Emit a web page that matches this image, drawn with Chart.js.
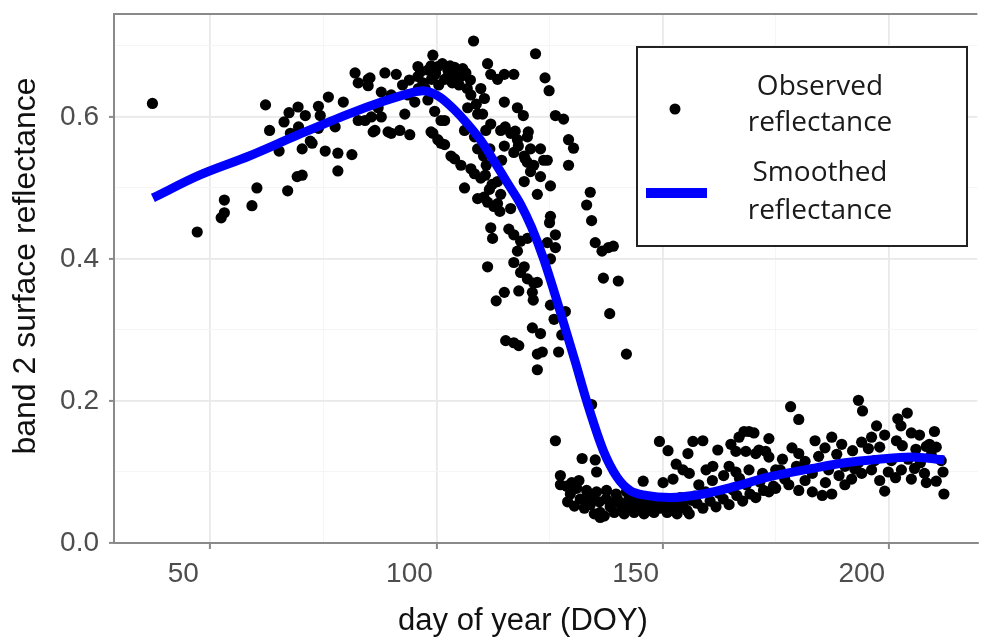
<!DOCTYPE html>
<html>
<head>
<meta charset="utf-8">
<script src="https://cdn.jsdelivr.net/npm/chart.js@4.4.1/dist/chart.umd.min.js"></script>
<style>
  html, body { margin: 0; padding: 0; background: #fff; overflow: hidden; }
  #wrap { width: 983px; height: 639px; }
</style>
</head>
<body>
<div id="wrap"><canvas id="reflChart" width="983" height="639"></canvas></div>
<script>
// observed band 2 reflectance (day of year / value pairs)
const obsDoy = [
  37.2, 47.1, 52.4, 53.1, 53.1, 59.2, 60.3, 62.2, 63.1, 65.2,
  66.3, 67.1, 67.4, 67.7, 69.2, 69.4, 69.5, 70.3, 70.3, 71.0,
  72.1, 72.5, 73.9, 73.9, 74.3, 75.4, 76.1, 77.6, 78.2, 78.2,
  79.4, 81.3, 82.0, 82.7, 82.7, 84.2, 84.9, 84.9, 85.3, 85.6,
  86.0, 86.4, 87.1, 87.8, 87.8, 88.6, 89.3, 90.0, 90.0, 91.1,
  91.9, 93.0, 93.7, 94.1, 95.2, 95.9, 95.9, 96.5, 97.0, 98.1,
  98.1, 98.8, 98.8, 98.9, 99.2, 99.2, 99.6, 99.6, 100.3, 100.3,
  100.5, 101.0, 101.0, 101.8, 101.8, 101.8, 102.5, 102.5, 103.2, 103.5,
  103.5, 104.0, 104.0, 105.0, 105.4, 105.4, 105.8, 106.2, 106.2, 106.5,
  106.9, 107.5, 107.6, 107.6, 108.2, 108.4, 108.4, 109.1, 109.1, 109.1,
  109.8, 109.8, 110.6, 110.2, 110.9, 110.4, 110.8, 111.0, 110.5, 111.3,
  111.3, 111.3, 112.0, 112.0, 112.3, 111.8, 111.7, 112.0, 112.4, 112.7,
  113.2, 113.5, 113.5, 113.5, 114.2, 114.0, 114.4, 114.2, 115.0, 115.0,
  115.0, 115.2, 115.0, 115.3, 116.0, 116.4, 116.4, 117.1, 117.1, 117.1,
  117.1, 117.1, 117.4, 117.9, 117.9, 118.1, 117.9, 118.2, 118.2, 118.6,
  118.6, 119.4, 119.2, 119.4, 119.6, 119.4, 120.1, 120.1, 120.3, 120.1,
  120.1, 120.8, 120.8, 121.2, 121.4, 121.2, 121.5, 121.5, 121.9, 122.3,
  122.3, 122.3, 122.3, 123.0, 123.0, 123.0, 123.4, 123.7, 124.0, 124.5,
  124.5, 124.9, 125.2, 125.2, 125.0, 125.2, 125.2, 126.0, 126.3, 126.3,
  126.3, 126.3, 127.0, 127.4, 127.4, 127.7, 128.1, 128.5, 128.8, 129.2,
  129.2, 129.6, 130.3, 131.0, 131.8, 132.2, 132.7, 133.2, 133.2, 134.0,
  134.0, 134.3, 134.3, 134.9, 135.1, 135.1, 135.4, 135.4, 136.2, 136.2,
  136.6, 136.9, 137.1, 137.6, 138.0, 138.3, 138.4, 139.1, 139.3, 139.7,
  140.2, 140.6, 141.5, 142.0, 142.0, 142.8, 143.7, 144.2, 145.0, 145.7,
  145.9, 146.4, 147.2, 148.1, 148.6, 149.3, 149.4, 150.1, 151.0, 151.2,
  151.6, 151.8, 152.3, 153.0, 153.2, 153.7, 153.9, 154.5, 155.4, 155.6,
  155.9, 155.9, 156.7, 157.6, 158.9, 158.9, 159.6, 160.5, 161.1, 161.8,
  162.2, 163.4, 164.7, 164.7, 165.1, 166.2, 166.2, 166.4, 166.9, 167.7,
  168.0, 168.4, 169.1, 169.1, 169.3, 170.2, 170.6, 170.6, 171.3, 172.1,
  172.3, 172.8, 173.5, 173.5, 173.5, 174.5, 175.0, 175.0, 176.0, 177.9,
  178.3, 178.6, 179.6, 180.1, 180.1, 180.1, 183.1, 183.1, 183.7, 185.3,
  185.9, 186.7, 187.4, 187.4, 189.6, 190.3, 190.3, 191.8, 193.3, 193.3,
  194.0, 194.0, 194.2, 196.2, 196.2, 196.9, 197.3, 199.1, 199.1, 199.9,
  200.6, 201.7, 202.0, 202.7, 202.8, 204.1, 204.3, 205.0, 205.7, 206.8,
  207.9, 208.3, 208.3, 209.0, 209.4, 210.1, 210.5, 211.6, 212.0, 212.2,
  // denser parts of the cloud
  92.5, 94.0, 96.0, 97.5, 99.8, 101.3, 103.0, 104.8, 106.8, 108.8,
  129.0, 129.9, 130.5, 131.5, 133.0, 134.5, 136.0, 137.5, 138.8, 140.0,
  141.2, 142.4, 143.3, 144.8, 146.0, 147.5, 148.8, 150.3, 152.5, 154.5,
  156.5, 157.0, 158.0, 159.5, 161.0, 162.5, 163.5, 165.5, 167.0, 168.5,
  171.5, 176.5, 177.0, 181.5, 181.5, 184.5, 186.0, 188.5, 189.0, 192.0,
  192.5, 195.5, 198.0, 198.0, 201.5, 203.0, 205.0, 206.0, 207.0, 210.5
];
const obsRefl = [
  0.619, 0.438, 0.458, 0.465, 0.483, 0.475, 0.500, 0.617, 0.581, 0.552,
  0.593, 0.496, 0.606, 0.577, 0.516, 0.614, 0.586, 0.555, 0.518, 0.602,
  0.566, 0.563, 0.615, 0.584, 0.602, 0.552, 0.628, 0.586, 0.549, 0.524,
  0.621, 0.547, 0.662, 0.648, 0.595, 0.595, 0.653, 0.644, 0.655, 0.600,
  0.579, 0.581, 0.613, 0.600, 0.635, 0.662, 0.579, 0.577, 0.631, 0.660,
  0.581, 0.604, 0.631, 0.575, 0.621, 0.671, 0.657, 0.664, 0.648, 0.666,
  0.624, 0.672, 0.579, 0.653, 0.687, 0.577, 0.659, 0.608, 0.671, 0.568,
  0.645, 0.563, 0.595, 0.653, 0.595, 0.561, 0.666, 0.657, 0.545, 0.648,
  0.660, 0.670, 0.541, 0.645, 0.657, 0.532, 0.668, 0.500, 0.581, 0.662,
  0.613, 0.652, 0.527, 0.631, 0.707, 0.572, 0.520, 0.604, 0.555, 0.485,
  0.640, 0.514, 0.626, 0.604, 0.581, 0.545, 0.518, 0.532, 0.487, 0.675,
  0.480, 0.389, 0.660, 0.590, 0.505, 0.555, 0.498, 0.444, 0.429, 0.474,
  0.341, 0.653, 0.509, 0.478, 0.581, 0.467, 0.539, 0.491, 0.660, 0.559,
  0.621, 0.586, 0.353, 0.285, 0.442, 0.577, 0.471, 0.660, 0.550, 0.434,
  0.395, 0.282, 0.580, 0.568, 0.613, 0.559, 0.411, 0.355, 0.278, 0.425,
  0.381, 0.545, 0.602, 0.509, 0.541, 0.389, 0.572, 0.536, 0.579, 0.429,
  0.372, 0.555, 0.523, 0.353, 0.342, 0.303, 0.532, 0.366, 0.689, 0.491,
  0.367, 0.266, 0.244, 0.555, 0.516, 0.295, 0.269, 0.539, 0.655, 0.539,
  0.423, 0.637, 0.503, 0.460, 0.451, 0.400, 0.335, 0.315, 0.602, 0.434,
  0.416, 0.144, 0.269, 0.095, 0.082, 0.293, 0.597, 0.326, 0.080, 0.568,
  0.532, 0.069, 0.556, 0.077, 0.062, 0.119, 0.049, 0.476, 0.074, 0.494,
  0.054, 0.454, 0.195, 0.041, 0.423, 0.117, 0.100, 0.072, 0.043, 0.036,
  0.411, 0.373, 0.038, 0.074, 0.416, 0.323, 0.051, 0.418, 0.043, 0.069,
  0.369, 0.056, 0.041, 0.266, 0.072, 0.051, 0.043, 0.067, 0.049, 0.087,
  0.041, 0.064, 0.046, 0.043, 0.062, 0.143, 0.049, 0.085, 0.043, 0.130,
  0.046, 0.062, 0.090, 0.111, 0.041, 0.049, 0.064, 0.103, 0.046, 0.126,
  0.041, 0.098, 0.143, 0.056, 0.144, 0.049, 0.103, 0.059, 0.108, 0.051,
  0.131, 0.062, 0.108, 0.054, 0.139, 0.129, 0.100, 0.067, 0.149, 0.059,
  0.157, 0.129, 0.103, 0.157, 0.069, 0.155, 0.126, 0.064, 0.131, 0.098,
  0.074, 0.129, 0.147, 0.072, 0.121, 0.080, 0.103, 0.077, 0.103, 0.082,
  0.192, 0.134, 0.108, 0.174, 0.126, 0.074, 0.098, 0.072, 0.144, 0.067,
  0.134, 0.103, 0.149, 0.069, 0.139, 0.108, 0.082, 0.090, 0.201, 0.113,
  0.142, 0.098, 0.186, 0.149, 0.103, 0.116, 0.165, 0.152, 0.073, 0.100,
  0.116, 0.144, 0.175, 0.165, 0.103, 0.183, 0.118, 0.155, 0.105, 0.152,
  0.098, 0.136, 0.085, 0.139, 0.124, 0.157, 0.087, 0.116, 0.100, 0.069,
  // denser parts of the cloud
  0.645, 0.652, 0.640, 0.640, 0.662, 0.675, 0.672, 0.655, 0.640, 0.618,
  0.058, 0.085, 0.052, 0.088, 0.060, 0.064, 0.058, 0.062, 0.057, 0.062,
  0.050, 0.060, 0.055, 0.058, 0.052, 0.056, 0.053, 0.055, 0.054, 0.055,
  0.060, 0.066, 0.082, 0.072, 0.088, 0.070, 0.095, 0.075, 0.091, 0.082,
  0.086, 0.118, 0.090, 0.115, 0.088, 0.122, 0.085, 0.125, 0.095, 0.130,
  0.104, 0.133, 0.135, 0.088, 0.092, 0.137, 0.090, 0.132, 0.113, 0.135
];

// smoothed curve
const smoothDoy = [37.3, 47.6, 58.6, 69.5, 80.5, 87.8, 94.4, 97.0, 99.0, 101.0,
  104.0, 106.9, 109.8, 112.7, 115.7, 118.6, 121.0, 123.7, 127.4, 130.7,
  133.2, 136.9, 139.9, 142.8, 146.4, 151.6, 158.9, 166.2, 173.5, 183.1,
  190.3, 197.7, 205.0, 212.3];
const smoothRefl = [0.486, 0.518, 0.545, 0.575, 0.604, 0.621, 0.634, 0.637, 0.634, 0.627,
  0.610, 0.590, 0.567, 0.538, 0.507, 0.477, 0.445, 0.400, 0.325, 0.255,
  0.200, 0.130, 0.093, 0.074, 0.067, 0.064, 0.069, 0.080, 0.093, 0.105,
  0.113, 0.118, 0.121, 0.117];

const xTicks = [50, 75, 100, 125, 150, 175, 200];
const xLabels = [50, 100, 150, 200];
const yTicks = [0, 0.1, 0.2, 0.3, 0.4, 0.5, 0.6, 0.7];
const yLabels = [0, 0.2, 0.4, 0.6];

const legendItems = [['Observed', 'reflectance'], ['Smoothed', 'reflectance']];

const gridMajor = '#e9e9e9';
const gridMinor = '#f5f5f5';
const frameGray = '#8a8a8a';

function isMajor(list, ctx) {
  return ctx.tick && list.includes(ctx.tick.value);
}

// drop the label padding chart.js adds so the panel fills the figure
function noEdgePadding(s) {
  s.paddingTop = 0;
  s.paddingBottom = 0;
  s.paddingLeft = 0;
  s.paddingRight = 0;
}

// top frame line, axis titles and the boxed legend
const decorations = {
  id: 'decorations',
  afterDraw(chart) {
    const ctx = chart.ctx;
    const area = chart.chartArea;
    ctx.save();

    ctx.strokeStyle = frameGray;
    ctx.lineWidth = 2;
    ctx.beginPath();
    ctx.moveTo(area.left - 1, area.top);
    ctx.lineTo(area.right, area.top);
    ctx.stroke();

    ctx.fillStyle = '#111';
    ctx.textAlign = 'center';
    ctx.textBaseline = 'middle';
    ctx.font = '31px "Liberation Sans", Arial, sans-serif';
    ctx.fillText('day of year (DOY)', 523, 621);

    ctx.save();
    ctx.translate(26, 266);
    ctx.rotate(-Math.PI / 2);
    ctx.font = '32px "Liberation Sans", Arial, sans-serif';
    ctx.fillText('band 2 surface reflectance', 0, 0);
    ctx.restore();

    // legend box
    ctx.fillStyle = '#fff';
    ctx.fillRect(637, 47, 330, 199);
    ctx.strokeStyle = '#222';
    ctx.lineWidth = 2;
    ctx.strokeRect(637, 47, 330, 199);

    ctx.fillStyle = '#000';
    ctx.beginPath();
    ctx.arc(675, 109, 5.5, 0, Math.PI * 2);
    ctx.fill();

    ctx.fillStyle = '#0000ff';
    ctx.fillRect(646, 188, 61, 10);

    ctx.fillStyle = '#1a1a1a';
    ctx.font = '28px "Open Sans", sans-serif';
    ctx.textBaseline = 'alphabetic';
    ctx.fillText(legendItems[0][0], 820, 95);
    ctx.fillText(legendItems[0][1], 820, 131);
    ctx.fillText(legendItems[1][0], 820, 181);
    ctx.fillText(legendItems[1][1], 820, 219);

    ctx.restore();
  }
};

const chart = new Chart(document.getElementById('reflChart'), {
  type: 'scatter',
  data: {
    datasets: [
      {
        label: 'Smoothed reflectance',
        data: smoothDoy.map((d, i) => ({ x: d, y: smoothRefl[i] })),
        showLine: true,
        borderColor: '#0000ff',
        borderWidth: 9,
        pointRadius: 0,
        cubicInterpolationMode: 'monotone',
        order: 0
      },
      {
        label: 'Observed reflectance',
        data: obsDoy.map((d, i) => ({ x: d, y: obsRefl[i] })),
        backgroundColor: '#000',
        borderWidth: 0,
        pointRadius: 5.6,
        order: 1
      }
    ]
  },
  options: {
    responsive: false,
    animation: false,
    devicePixelRatio: 1,
    layout: { padding: { top: 14, right: 0, bottom: 0, left: 0 } },
    plugins: {
      legend: { display: false },
      tooltip: { enabled: false }
    },
    scales: {
      x: {
        type: 'linear',
        position: 'bottom',
        min: 28.7,
        max: 219.6,
        afterFit: s => { s.height = 96; noEdgePadding(s); },
        afterBuildTicks: s => { s.ticks = xTicks.map(v => ({ value: v })); },
        ticks: {
          callback: v => xLabels.includes(v) ? String(v) : '',
          font: { family: '"Liberation Sans", Arial, sans-serif', size: 28 },
          color: '#4d4d4d',
          maxRotation: 0,
          autoSkip: false,
          labelOffset: -27,
          padding: 8
        },
        grid: {
          color: c => isMajor(xLabels, c) ? gridMajor : gridMinor,
          lineWidth: c => isMajor(xLabels, c) ? 1.8 : 1,
          tickLength: 6,
          tickColor: c => isMajor(xLabels, c) ? frameGray : 'rgba(0,0,0,0)',
          tickWidth: 2
        },
        border: { color: frameGray, width: 2 }
      },
      y: {
        min: 0,
        max: 0.745,
        afterFit: s => { s.width = 114; noEdgePadding(s); },
        afterBuildTicks: s => { s.ticks = yTicks.map(v => ({ value: v })); },
        ticks: {
          callback: v => yLabels.includes(v) ? v.toFixed(1) : '',
          font: { family: '"Liberation Sans", Arial, sans-serif', size: 28 },
          color: '#4d4d4d',
          autoSkip: false,
          padding: 10
        },
        grid: {
          color: c => isMajor(yLabels, c) ? gridMajor : gridMinor,
          lineWidth: c => isMajor(yLabels, c) ? 1.8 : 1,
          tickLength: 5,
          tickColor: c => isMajor(yLabels, c) ? frameGray : 'rgba(0,0,0,0)',
          tickWidth: 2
        },
        border: { color: frameGray, width: 2 }
      }
    }
  },
  plugins: [decorations]
});
</script>
</body>
</html>
